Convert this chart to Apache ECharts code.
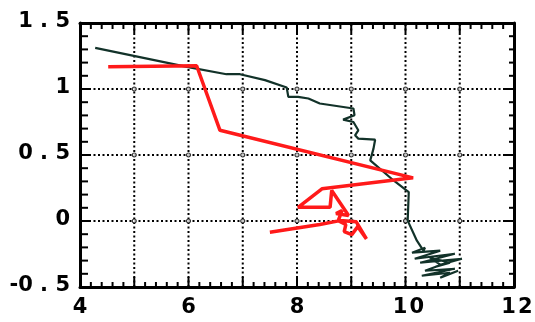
<!DOCTYPE html>
<html><head><meta charset="utf-8">
<script src="https://cdn.jsdelivr.net/npm/echarts@6/dist/echarts.min.js"></script>
<style>html,body{margin:0;padding:0;background:#fff}#c{width:535px;height:322px}</style>
</head><body><div id="c"></div>
<script>
// Dark (green-black) trajectory
const darkX = [4.28,5.97,6.70,6.95,7.41,7.81,7.84,8.02,8.21,8.42,9.04,9.07,9.06,8.85,9.04,9.13,9.07,9.13,9.44,9.41,9.35,9.78,10.06,10.04,10.21,10.33,
  10.36,10.12,10.64,10.17,10.91,10.27,11.04,10.64,10.45,10.82,10.56,10.36,10.91,10.30,10.82,10.64,10.97,10.73];
const darkY = [1.312,1.168,1.112,1.112,1.067,1.011,0.940,0.940,0.928,0.890,0.852,0.859,0.801,0.768,0.750,0.687,0.649,0.624,0.616,0.548,0.459,0.307,0.218,0.003,-0.149,-0.225,
  -0.202,-0.240,-0.225,-0.286,-0.248,-0.316,-0.286,-0.331,-0.278,-0.316,-0.346,-0.377,-0.362,-0.415,-0.392,-0.430,-0.377,-0.415];
// Red trajectory
const redX = [4.52,6.15,6.58,10.14,8.46,8.02,8.61,8.64,8.95,8.72,8.83,8.76,8.90,8.87,9.01,9.12,9.28,9.09,8.79,8.42,7.50];
const redY = [1.168,1.176,0.687,0.327,0.244,0.104,0.104,0.231,0.041,0.056,0.079,0.003,-0.027,-0.081,-0.103,-0.043,-0.136,-0.005,0.003,-0.027,-0.086];
// Axis structure
const X_MIN = 4, X_MAX = 12, Y_MIN = -0.5, Y_MAX = 1.5;
const xMajor = [4,5,6,7,8,9,10,11,12];
const yMajor = [-0.5,0,0.5,1,1.5];
const gridXs = [5,6,7,8,9,10,11];
const gridYs = [0,0.5,1];
const xTickValues = [4,6,8,10,12];
const xTickTexts = ['4','6','8','1\u200A0','1\u200A2'];
const yTickValues = [-0.5,0,0.5,1,1.5];
const yTickTexts = ['-0 . 5','0','0 . 5','1','1 . 5'];

const pair = (xs, ys) => xs.map((x,i)=>[x, ys[i]]);
const inter = [];
gridXs.forEach(x => gridYs.forEach(y => inter.push([x,y])));

// frame items: [x, y, kind, a, b]; kind 0 = tick (a,b pixel offsets), kind 1 = dotted gridline to data point (a,b)
const frame = [];
gridXs.forEach(x => frame.push([x, Y_MIN, 1, x, Y_MAX]));
gridYs.forEach(y => frame.push([X_MIN, y, 1, X_MAX, y]));
for (let i = 0; i < xMajor.length; i++) {
  const v = xMajor[i];
  frame.push([v, Y_MIN, 0, 0, -10]);
  frame.push([v, Y_MAX, 0, 0, 10]);
  if (i < xMajor.length - 1) for (let k = 1; k < 5; k++) {
    const m = +(v + k * 0.2).toFixed(2);
    frame.push([m, Y_MIN, 0, 0, -5]);
    frame.push([m, Y_MAX, 0, 0, 6]);
  }
}
for (let i = 0; i < yMajor.length; i++) {
  const v = yMajor[i];
  frame.push([X_MIN, v, 0, 10, 0]);
  frame.push([X_MAX, v, 0, -9, 0]);
  if (i < yMajor.length - 1) for (let k = 1; k < 5; k++) {
    const m = +(v + k * 0.1).toFixed(2);
    frame.push([X_MIN, m, 0, 8, 0]);
    frame.push([X_MAX, m, 0, -5, 0]);
  }
}

const FONT = 'bold 21px "DejaVu Sans", "Liberation Sans", sans-serif';
function axisLine(){ return {show:true, onZero:false, lineStyle:{color:'#000', width:3}}; }

const chart = echarts.init(document.getElementById('c'));
chart.setOption({
  animation:false,
  grid:{left:80, right:21, top:23, bottom:35},
  xAxis: [
    {type:'value', min:X_MIN, max:X_MAX, interval:1, position:'bottom', axisLine: axisLine(),
     axisTick:{show:false}, minorTick:{show:false}, axisLabel:{show:false}, splitLine:{show:false}},
    {type:'value', min:X_MIN, max:X_MAX, interval:1, position:'top', axisLine: axisLine(),
     axisTick:{show:false}, minorTick:{show:false}, axisLabel:{show:false}, splitLine:{show:false}}
  ],
  yAxis: [
    {type:'value', min:Y_MIN, max:Y_MAX, interval:0.5, position:'left', axisLine: axisLine(),
     axisTick:{show:false}, minorTick:{show:false}, axisLabel:{show:false}, splitLine:{show:false}},
    {type:'value', min:Y_MIN, max:Y_MAX, interval:0.5, position:'right', axisLine: axisLine(),
     axisTick:{show:false}, minorTick:{show:false}, axisLabel:{show:false}, splitLine:{show:false}}
  ],
  series: [
    {type:'custom', data: frame, silent:true, clip:false, z:1,
     encode:{x:0, y:1},
     renderItem: function(params, api){
       const p = api.coord([api.value(0), api.value(1)]);
       const kind = api.value(2);
       let q, dash = null;
       if (kind === 0) { q = [p[0] + api.value(3), p[1] + api.value(4)]; }
       else { q = api.coord([api.value(3), api.value(4)]); dash = [2, 2.5]; }
       return {type:'line', shape:{x1:p[0], y1:p[1], x2:q[0], y2:q[1]},
               style:{stroke:'#000', lineWidth:2, lineDash:dash, fill:null}};
     }},
    {type:'scatter', data: inter, symbol:'circle', symbolSize:4, silent:true,
     itemStyle:{color:'#fff', borderColor:'#000', borderWidth:1.2}, z:2},
    {type:'line', data: pair(darkX, darkY), showSymbol:false, symbol:'none',
     lineStyle:{color:'#123229', width:2.2}, z:3},
    {type:'line', data: pair(redX, redY), showSymbol:false, symbol:'none',
     lineStyle:{color:'#ff1a1a', width:3.5}, z:4}
  ]
});

// Tick labels placed through the axes' own scales
const yMinPx = chart.convertToPixel({yAxisIndex:0}, Y_MIN);
const xMinPx = chart.convertToPixel({xAxisIndex:0}, X_MIN);
const labels = [];
xTickValues.forEach((v, i) => {
  labels.push({type:'text', silent:true,
    x: chart.convertToPixel({xAxisIndex:0}, v) + (v >= 10 ? 3 : 0),
    y: yMinPx + 21,
    style:{text: xTickTexts[i], font: FONT, fill:'#000', align:'center', verticalAlign:'middle',
           textAlign:'center', textVerticalAlign:'middle'}});
});
yTickValues.forEach((v, i) => {
  labels.push({type:'text', silent:true,
    x: xMinPx - 10,
    y: chart.convertToPixel({yAxisIndex:0}, v) - 1,
    style:{text: yTickTexts[i], font: FONT, fill:'#000', align:'right', verticalAlign:'middle',
           textAlign:'right', textVerticalAlign:'middle'}});
});
chart.setOption({graphic: labels});
</script></body></html>
